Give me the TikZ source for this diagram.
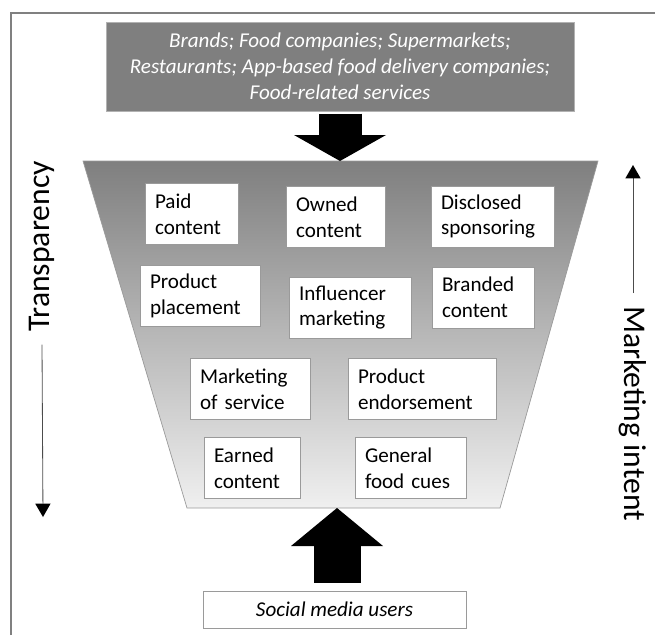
\documentclass[tikz,border=0pt]{standalone}
\usepackage{fontspec}
\setmainfont{Carlito}
\usetikzlibrary{arrows.meta}

\definecolor{topgray}{HTML}{7F7F7F}
\definecolor{edgegray}{HTML}{9A9A9A}
\definecolor{framegray}{HTML}{808080}

\begin{document}
\begin{tikzpicture}[x=0.03cm, y=-0.03cm,
    box/.style = {draw=edgegray, fill=white, align=left, inner xsep=0.3cm, minimum height=1.83cm, font=\fontsize{18}{22}\selectfont},
    side/.style = {font=\fontsize{27}{31}\selectfont, inner sep=0.38cm},
    thin arrow/.style = {draw=black!70, line width=0.7pt, -{Triangle[length=0.4cm, width=0.46cm, line width=0pt, color=black]}},
    big arrow/.style = {line width=1.29cm, -{Triangle[length=0.78cm, width=2.76cm, line width=0pt]}}]
    \useasboundingbox (0,0) rectangle (655,635);
    \draw[framegray, line width=1.1pt] (11,635) -- (11,13) -- (655,13);

    \coordinate (f_tl) at (83,161);
    \coordinate (f_tr) at (598,161);
    \coordinate (f_br) at (500,508);
    \coordinate (f_bl) at (187,508);
    \coordinate (f_top) at (340,161);
    \coordinate (f_bot) at (337,508);
    \shade[top color=topgray, middle color=black!20, bottom color=black!6, draw=edgegray, line width=0.6pt]
        (f_tl) -- (f_tr) -- (f_br) -- (f_bl) -- cycle;

    \node[fill=topgray, draw=black!30, minimum width=14.04cm, minimum height=2.67cm, align=center, text=white, font=\fontsize{18}{22}\selectfont\itshape] (n_top) at (340,66.5)
        {Brands; Food companies; Supermarkets;\\Restaurants; App-based food delivery companies;\\Food-related services};

    \node[box, text width=2.19cm] (n_paid) at (191.5,214) {Paid\\content};
    \node[box, text width=2.37cm] (n_owned) at (335.5,217) {Owned\\content};
    \node[box, text width=3.09cm] (n_disclosed) at (492.5,216.5) {Disclosed\\sponsoring};
    \node[box, text width=3.0cm] (n_placement) at (200,295.5) {Product\\placement};
    \node[box, text width=3.06cm] (n_influencer) at (350,307.5) {Influencer\\marketing};
    \node[box, text width=2.46cm] (n_branded) at (483,297.5) {Branded\\content};
    \node[box, text width=3.0cm] (n_service) at (250,389) {Marketing\\of service};
    \node[box, text width=3.84cm] (n_endorse) at (422,389) {Product\\endorsement};
    \node[box, text width=2.28cm] (n_earned) at (252,468) {Earned\\content};
    \node[box, text width=2.73cm] (n_cues) at (410.5,468) {General\\food cues};

    \node[box, minimum width=7.89cm, minimum height=1.11cm, align=center, font=\fontsize{18}{22}\selectfont\itshape] (n_users) at (334.5,609.5) {Social media users};

    \draw[big arrow, shorten <=2] (n_top.south) -- (f_top);
    \draw[line width=1.41cm, -{Triangle[length=1.14cm, width=2.76cm, line width=0pt]}, shorten <=7] (f_bot |- n_users.north) -- (f_bot);

    \node[side, rotate=90] (n_transp) at (42,246.5) {Transparency};
    \node[side, rotate=-90] (n_intent) at (633,413.5) {Marketing intent};
    \coordinate (t_end) at (43,517);
    \coordinate (m_end) at (633,165);
    \draw[thin arrow] (n_transp.west) -- (t_end);
    \draw[thin arrow] (n_intent.west) -- (m_end);
\end{tikzpicture}
\end{document}
